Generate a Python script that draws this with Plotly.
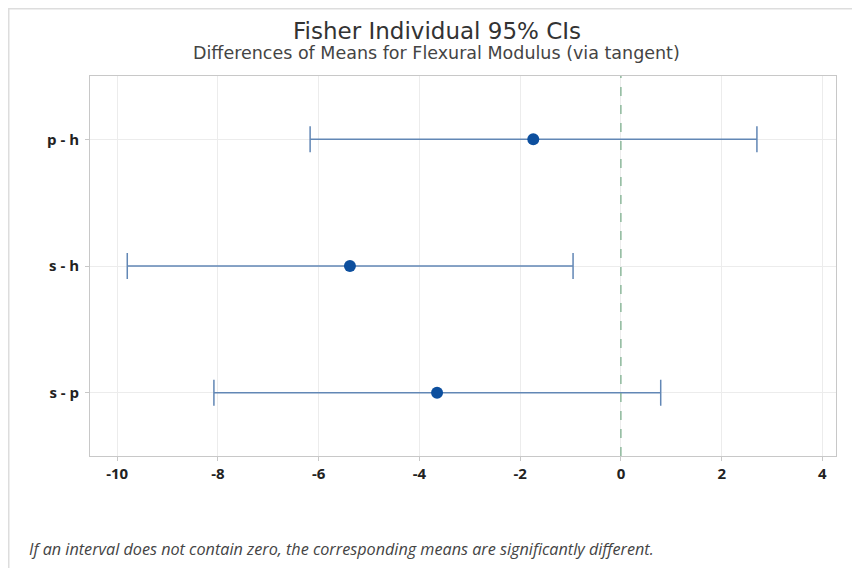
import plotly.graph_objects as go

comparisons = ["p - h", "s - h", "s - p"]
means = [-1.74, -5.38, -3.65]
lower = [-6.17, -9.80, -8.08]
upper = [2.70, -0.95, 0.79]
x_ticks = [-10, -8, -6, -4, -2, 0, 2, 4]
x_tick_labels = ["-10", "-8", "-6", "-4", "-2", "0", "2", "4"]

err_plus = [u - m for u, m in zip(upper, means)]
err_minus = [m - l for m, l in zip(means, lower)]

W, H = 844, 560
ML, MT, MR, MB = 82, 68, 16, 112
PW, PH = W - ML - MR, H - MT - MB

fig = go.Figure()
fig.add_trace(go.Scatter(
    x=means, y=comparisons, mode="markers",
    marker=dict(color="#0d4f9e", size=12),
    error_x=dict(type="data", symmetric=False, array=err_plus, arrayminus=err_minus,
                 color="#6287b5", thickness=1.5, width=13),
    showlegend=False,
))
fig.add_vline(x=0, line=dict(color="#74ab86", width=1.2, dash="dash"))

fig.update_xaxes(range=[-10.54, 4.27], tickvals=x_ticks, ticktext=x_tick_labels,
                 showgrid=True, gridcolor="#ececec",
                 zeroline=False, showline=True, linecolor="#c8c8c8", mirror=True,
                 ticks="outside", ticklen=4, tickcolor="#c8c8c8",
                 tickfont=dict(family="Open Sans", size=15, color="#222", weight="bold"))
fig.update_yaxes(categoryorder="array", categoryarray=comparisons, range=[2.5, -0.5],
                 showgrid=True, gridcolor="#ececec", zeroline=False, showline=True,
                 linecolor="#c8c8c8", mirror=True, ticks="outside", ticklen=4, tickcolor="#c8c8c8",
                 ticklabelstandoff=3,
                 tickfont=dict(family="Open Sans", size=15, color="#222", weight="bold"))

fig.add_annotation(text="Fisher Individual 95% CIs", xref="paper", yref="paper",
                   x=0.465, y=1.0, yshift=45, xanchor="center", yanchor="middle", showarrow=False,
                   font=dict(family="DejaVu Sans", size=23, color="#333"))
fig.add_annotation(text="Differences of Means for Flexural Modulus (via tangent)", xref="paper", yref="paper",
                   x=0.465, y=1.0, yshift=23, xanchor="center", yanchor="middle", showarrow=False,
                   font=dict(family="DejaVu Sans", size=17.5, color="#444"))
fig.add_annotation(text="<i>If an interval does not contain zero, the corresponding means are significantly different.</i>",
                   xref="paper", yref="paper", x=(19 - ML) / PW, y=0, yshift=-93,
                   xanchor="left", yanchor="middle", showarrow=False,
                   font=dict(family="Open Sans", size=16.2, color="#444"))

fig.add_shape(type="rect", xref="paper", yref="paper",
              x0=(0.75 - ML) / PW, x1=1.2, y0=-0.5, y1=1.0 + (MT - 0.75) / PH,
              line=dict(color="#dddddd", width=1.5), layer="below")

fig.update_layout(width=W, height=H, margin=dict(l=ML, r=MR, t=MT, b=MB),
                  plot_bgcolor="white", paper_bgcolor="white")
fig.write_html("out.html")
